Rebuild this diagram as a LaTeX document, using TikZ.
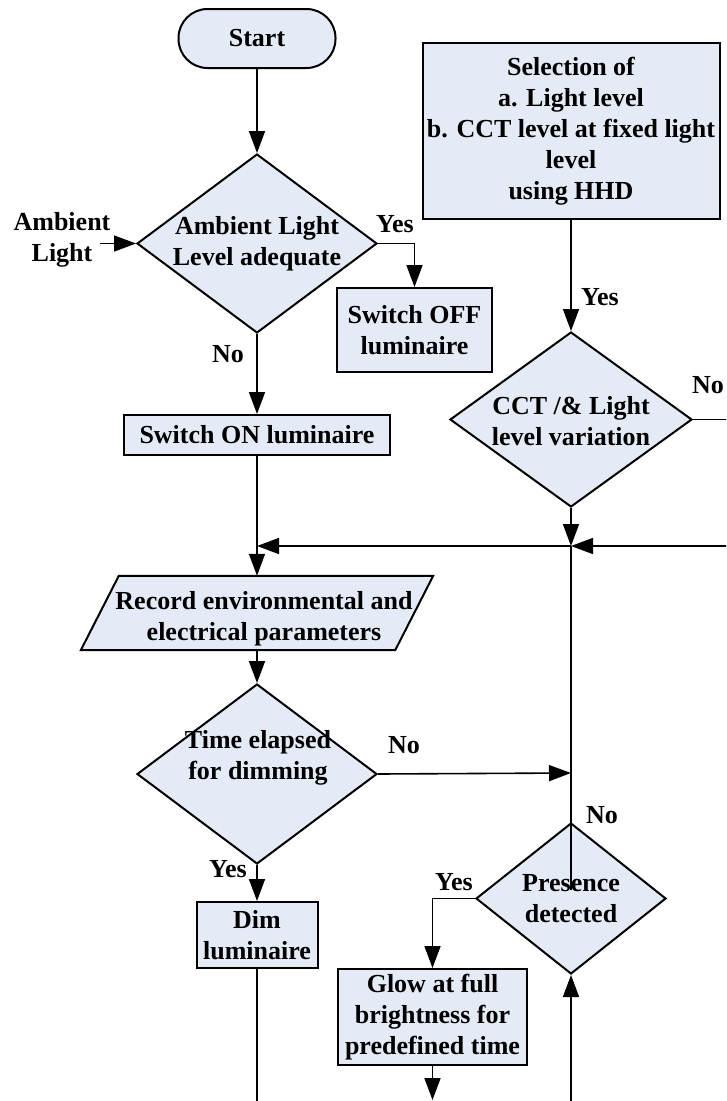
\documentclass[tikz,border=0pt]{standalone}
\usepackage{fontspec}
\setmainfont{Liberation Serif}
\usetikzlibrary{arrows.meta,shapes.geometric}
\definecolor{boxfill}{RGB}{229,235,246}
\begin{document}
\begin{tikzpicture}[x=1pt,y=-1pt,
  lbl/.style={font=\bfseries\fontsize{26}{31}\selectfont, align=center, inner sep=0pt},
  shapeline/.style={draw=black, line width=2pt, fill=boxfill},
  stepbox/.style={lbl, rectangle, shapeline},
  terminal/.style={lbl, rectangle, rounded corners=29pt, shapeline},
  decision/.style={diamond, shapeline, inner sep=0pt},
  conn/.style={line width=1.6pt},
  arr/.style={conn, -{Triangle[length=22pt,width=16pt]}}]
\useasboundingbox (0,0) rectangle (726,1101);
\clip (0,0) rectangle (726,1101);

% start and first decision
\node[terminal, minimum width=157pt, minimum height=59pt] (start) at (257,38.5) {Start};
\node[decision, minimum width=240pt, minimum height=179pt] (d1) at (257,243.5) {};
\node[lbl] (d1t) at (257,244) {Ambient Light\\Level adequate};
\draw[arr] (start.south) -- (d1.north);

\node[lbl] (amb) at (62,240) {Ambient\\Light};
\coordinate (ambin) at (100,243.5);
\draw[arr] (ambin) -- (d1.west);

\node[stepbox, minimum width=155pt, minimum height=84pt] (off) at (414.5,330) {Switch OFF\\luminaire};
\draw[arr] (d1.east) -| (off.north);
\node[lbl] (yes1) at (395,224) {Yes};

\node[stepbox, minimum width=266pt, minimum height=40pt] (on) at (257,435) {Switch ON luminaire};
\draw[arr] (d1.south) -- (on.north);
\node[lbl] (no1) at (228,354) {No};

% user selection branch
\node[stepbox, minimum width=297pt, minimum height=176pt] (sel) at (571,131) {Selection of\\a. Light level\\b. CCT level at fixed light\\level\\using HHD};
\node[decision, minimum width=242pt, minimum height=175pt] (d2) at (571,419.5) {};
\node[lbl] (d2t) at (571,421) {CCT /\& Light\\level variation};
\draw[arr] (sel.south) -- (d2.north);
\node[lbl] (yes2) at (600,297) {Yes};
\node[lbl] (no2) at (708,385) {No};
\coordinate (d2out) at (740,419.5);
\draw[conn] (d2.east) -- (d2out);

% merge line
\coordinate (j) at (571,546);
\coordinate (rin) at (740,546);
\coordinate (jl) at (257,546);
\draw[arr] (d2.south) -- (j);
\draw[arr] (rin) -- (j);
\draw[arr] (j) -- (jl);

% record parameters (parallelogram)
\node[minimum width=314pt, minimum height=74pt, inner sep=0pt] (rec) at (257,613) {};
\draw[shapeline] ([xshift=19pt]rec.north west) -- ([xshift=19pt]rec.north east)
  -- ([xshift=-19pt]rec.south east) -- ([xshift=-19pt]rec.south west) -- cycle;
\node[lbl] (rect) at (264,619) {Record environmental and\\electrical parameters};
\draw[arr] (on.south) -- (rec.north);

% dimming decision
\node[decision, minimum width=240pt, minimum height=180pt] (d3) at (257,774) {};
\node[lbl] (d3t) at (258,758) {Time elapsed\\for dimming};
\draw[arr] (rec.south) -- (d3.north);
\node[lbl] (no3) at (404,745) {No};
\coordinate (j2) at (571,773);
\draw[arr] (d3.east) -- (j2);

\node[stepbox, minimum width=121pt, minimum height=66pt] (dim) at (257,935) {Dim\\luminaire};
\draw[arr] (d3.south) -- (dim.north);
\node[lbl] (yes3) at (228,869) {Yes};
\coordinate (dout) at (257,1110);
\draw[conn] (dim.south) -- (dout);

% presence decision
\node[decision, minimum width=190pt, minimum height=151pt] (d4) at (571,898.5) {};
\node[lbl] (d4t) at (571,899) {Presence\\detected};
\coordinate (pin) at (571,890);
\draw[conn] (j) -- (pin);
\node[lbl] (no4) at (602,815) {No};

\node[stepbox, minimum width=189pt, minimum height=96pt] (glow) at (432.5,1017) {Glow at full\\brightness for\\predefined time};
\draw[arr] (d4.west) -| (glow.north);
\node[lbl] (yes4) at (454,882) {Yes};
\coordinate (gout) at (432.5,1100);
\draw[arr] (glow.south) -- (gout);

\coordinate (pbot) at (571,1110);
\draw[arr] (pbot) -- (d4.south);
\end{tikzpicture}
\end{document}
